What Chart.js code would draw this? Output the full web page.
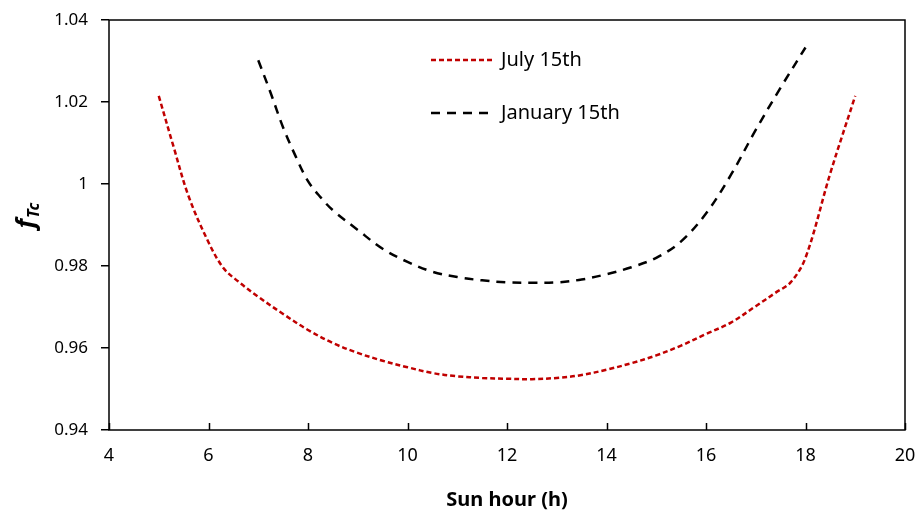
<!DOCTYPE html>
<html>
<head>
<meta charset="utf-8">
<script src="https://cdn.jsdelivr.net/npm/chart.js@4.4.1/dist/chart.umd.min.js"></script>
<style>
  html, body { margin: 0; padding: 0; background: #fff; }
</style>
</head>
<body>
<canvas id="chart" width="920" height="515"></canvas>
<script>
// July 15th curve
const julyHours  = [5, 5.3, 5.6, 6, 6.3, 6.6, 7, 7.5, 8, 8.5, 9, 9.5, 10, 10.5, 11, 11.5, 12, 12.5, 13, 13.5, 14, 14.5, 15, 15.5, 16, 16.5, 17, 17.4, 17.7, 18, 18.5, 19];
const julyValues = [1.0215, 1.009, 0.997, 0.9858, 0.9795, 0.9762, 0.9725, 0.9683, 0.9644, 0.9612, 0.9588, 0.9569, 0.9553, 0.9539, 0.9531, 0.9527, 0.9525, 0.9524, 0.9527, 0.9534, 0.9547, 0.9563, 0.9582, 0.9606, 0.9634, 0.9662, 0.9702, 0.9735, 0.976, 0.982, 1.0027, 1.0215];

// January 15th curve
const janHours  = [7, 7.25, 7.5, 7.75, 8, 8.25, 8.5, 9, 9.5, 10, 10.5, 11, 11.5, 12, 12.5, 13, 13.5, 14, 14.5, 15, 15.5, 16, 16.5, 17, 17.5, 18];
const janValues = [1.0302, 1.0222, 1.0138, 1.0068, 1.0007, 0.9968, 0.9936, 0.9888, 0.9842, 0.981, 0.9786, 0.9773, 0.9765, 0.976, 0.9759, 0.976, 0.9767, 0.978, 0.9797, 0.982, 0.986, 0.9928, 1.0022, 1.0132, 1.0235, 1.0333];

const seriesLabels = ['July 15th', 'January 15th'];
const xTicks = [4, 6, 8, 10, 12, 14, 16, 18, 20];
const yTicks = [0.94, 0.96, 0.98, 1, 1.02, 1.04];

const FONT = "'Noto Sans', 'Open Sans', sans-serif";

const toPoints = (xs, ys) => xs.map((x, i) => ({ x: x, y: ys[i] }));

// frame, inward x ticks, legend and y title
const decorations = {
    id: 'decorations',
    afterDraw(chart) {
        const ctx = chart.ctx;
        const area = chart.chartArea;
        const xs = chart.scales.x;
        ctx.save();
        ctx.strokeStyle = '#000';
        ctx.lineWidth = 1.5;
        ctx.strokeRect(area.left, area.top, area.right - area.left, area.bottom - area.top);

        // x ticks point up into the plot
        ctx.beginPath();
        xTicks.forEach(v => {
            const px = Math.round(xs.getPixelForValue(v)) + 0.5;
            ctx.moveTo(px, area.bottom);
            ctx.lineTo(px, area.bottom - 7);
        });
        ctx.stroke();

        // legend inside the plot
        const rows = [60, 113];
        chart.data.datasets.forEach((ds, i) => {
            const y = rows[i];
            ctx.beginPath();
            ctx.strokeStyle = ds.borderColor;
            ctx.lineWidth = ds.borderWidth;
            ctx.setLineDash(ds.borderDash);
            ctx.moveTo(431, y);
            ctx.lineTo(495, y);
            ctx.stroke();
            ctx.setLineDash([]);
            ctx.fillStyle = '#000';
            ctx.font = '20px ' + FONT;
            ctx.textBaseline = 'middle';
            ctx.textAlign = 'left';
            ctx.fillText(ds.label, 501, y);
        });

        // y axis title: f with subscript Tc
        ctx.translate(34, 216);
        ctx.rotate(-Math.PI / 2);
        ctx.fillStyle = '#000';
        ctx.textBaseline = 'alphabetic';
        ctx.textAlign = 'left';
        ctx.font = 'italic bold 25px ' + FONT;
        const fW = ctx.measureText('f').width;
        ctx.font = 'italic bold 16px ' + FONT;
        const sW = ctx.measureText('Tc').width;
        const start = -(fW + sW) / 2;
        ctx.font = 'italic bold 25px ' + FONT;
        ctx.fillText('f', start, 0);
        ctx.font = 'italic bold 16px ' + FONT;
        ctx.fillText('Tc', start + fW + 1, 5);
        ctx.restore();
    }
};

const chart = new Chart(document.getElementById('chart').getContext('2d'), {
    type: 'line',
    data: {
        datasets: [{
            label: seriesLabels[0],
            data: toPoints(julyHours, julyValues),
            borderColor: 'rgb(192, 0, 0)',
            borderWidth: 2.5,
            borderDash: [5, 3],
            pointRadius: 0,
            tension: 0.35,
            fill: false
        }, {
            label: seriesLabels[1],
            data: toPoints(janHours, janValues),
            borderColor: '#000',
            borderWidth: 2.5,
            borderDash: [9, 7],
            pointRadius: 0,
            tension: 0.35,
            fill: false
        }]
    },
    options: {
        responsive: false,
        animation: false,
        layout: { padding: { top: 20, right: 15, left: 0, bottom: 0 } },
        plugins: {
            legend: { display: false },
            tooltip: { enabled: false }
        },
        scales: {
            x: {
                type: 'linear',
                min: 4,
                max: 20,
                afterBuildTicks: axis => { axis.ticks = xTicks.map(v => ({ value: v })); },
                afterFit: axis => {
                    axis.height = 85;
                    axis.paddingLeft = 0;
                    axis.paddingRight = 0;
                },
                grid: { display: false, drawTicks: false },
                border: { display: false },
                ticks: {
                    color: '#000',
                    padding: 15,
                    font: { family: FONT, size: 18 }
                },
                title: {
                    display: true,
                    text: 'Sun hour (h)',
                    color: '#000',
                    font: { family: FONT, size: 20, weight: 'bold' },
                    padding: { top: 0, bottom: 3 }
                }
            },
            y: {
                type: 'linear',
                min: 0.94,
                max: 1.04,
                afterBuildTicks: axis => { axis.ticks = yTicks.map(v => ({ value: v })); },
                afterFit: axis => {
                    axis.width = 109;
                    axis.paddingTop = 0;
                    axis.paddingBottom = 0;
                },
                grid: {
                    drawOnChartArea: false,
                    drawTicks: true,
                    tickLength: 8,
                    color: '#000',
                    lineWidth: 1.5
                },
                border: { display: false },
                ticks: {
                    color: '#000',
                    padding: 13,
                    font: { family: FONT, size: 17 },
                    callback: v => String(Number(v.toFixed(2)))
                }
            }
        }
    },
    plugins: [decorations]
});
</script>
</body>
</html>
